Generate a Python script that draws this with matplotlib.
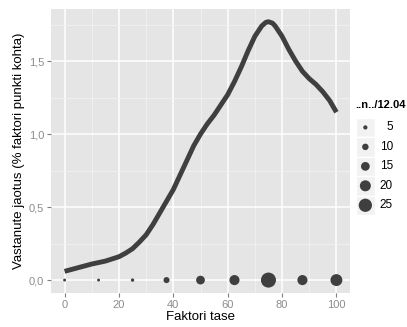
import matplotlib

matplotlib.use("Agg")
import matplotlib.pyplot as plt
from matplotlib.patches import Rectangle

plt.rcParams["font.family"] = ["Liberation Sans", "DejaVu Sans"]

# factor level vs number of respondents
level = [0, 12.5, 25, 37.5, 50, 62.5, 75, 87.5, 100]
count = [2, 2, 3, 9, 15, 18, 29, 18, 22]

# density curve (% per factor point)
curve_x = [0, 5, 10, 15, 17.5, 20, 22.5, 25, 27.5, 30, 32.5, 35, 37.5, 40,
           42.5, 45, 47.5, 50, 52.5, 55, 57.5, 60, 62.5, 65, 67.5, 70,
           72.5, 74, 75, 76.5, 77.5, 80, 82.5, 85, 87.5, 90, 92.5, 95,
           97.5, 100]
curve_y = [0.06, 0.085, 0.11, 0.13, 0.145, 0.16, 0.185, 0.215, 0.26, 0.31,
           0.38, 0.46, 0.54, 0.62, 0.72, 0.82, 0.92, 1.0, 1.07, 1.13, 1.20,
           1.27, 1.36, 1.46, 1.57, 1.67, 1.74, 1.765, 1.77, 1.76, 1.74,
           1.67, 1.58, 1.50, 1.43, 1.38, 1.34, 1.29, 1.23, 1.15]

legend_breaks = [5, 10, 15, 20, 25]
x_ticks = [0, 20, 40, 60, 80, 100]
y_ticks = [0.0, 0.5, 1.0, 1.5]
y_labels = ["0,0", "0,5", "1,0", "1,5"]

ink = "#3f3f3f"


def size_of(n):
    # diameter in px -> marker area in pt^2
    d = (2 + 0.45 * n) * 0.72
    return d * d


W, H = 407, 327
fig = plt.figure(figsize=(W / 100, H / 100), dpi=100)
ax = fig.add_axes([51 / W, 1 - 293 / H, 299 / W, 284 / H])
ax.set_facecolor("#e5e5e5")
for s in ax.spines.values():
    s.set_visible(False)

ax.set_xlim(-5, 105)
ax.set_ylim(-0.0885, 1.857)
ax.set_xticks(x_ticks)
ax.set_xticklabels([str(t) for t in x_ticks])
ax.set_xticks([10, 30, 50, 70, 90], minor=True)
ax.set_yticks(y_ticks)
ax.set_yticklabels(y_labels)
ax.set_yticks([0.25, 0.75, 1.25, 1.75], minor=True)
ax.grid(which="major", color="white", linewidth=1.1)
ax.grid(which="minor", color="#f2f2f2", linewidth=0.6)
ax.set_axisbelow(True)
ax.tick_params(which="major", length=3, width=0.8, color="#7f7f7f",
               labelcolor="#8c8c8c", labelsize=8, pad=2)
ax.tick_params(which="minor", length=0)

ax.plot(curve_x, curve_y, color=ink, linewidth=3.5, solid_capstyle="butt",
        solid_joinstyle="round")
ax.scatter(level, [0] * len(level), s=[size_of(n) for n in count],
           color=ink, linewidths=0, zorder=3)

ax.set_xlabel("Faktori tase", fontsize=9.5, labelpad=1)
ax.set_ylabel("Vastanute jaotus (% faktori punkti kohta)", fontsize=9.5,
              labelpad=3)

# legend as its own small axes
lg = fig.add_axes([355.7 / W, 1 - 215 / H, 19.3 / W, 97.3 / H])
lg.set_xlim(0, 1)
lg.set_ylim(len(legend_breaks) - 0.5, -0.5)
lg.axis("off")
for i, b in enumerate(legend_breaks):
    lg.add_patch(Rectangle((0, i - 0.5), 1, 1, facecolor="#f2f2f2",
                           edgecolor="white", linewidth=1))
    lg.text(37.3 / 19.3, i, str(b), ha="right", va="center", fontsize=8.5,
            transform=lg.transData, clip_on=False)
lg.scatter([0.5] * len(legend_breaks), range(len(legend_breaks)),
           s=[size_of(b) for b in legend_breaks], color=ink, linewidths=0,
           zorder=3)
fig.text(355 / W, 1 - 105.5 / H, "..n../12.04", fontsize=8,
         fontweight="bold", ha="left", va="center")

fig.savefig("out.png", dpi=100)
